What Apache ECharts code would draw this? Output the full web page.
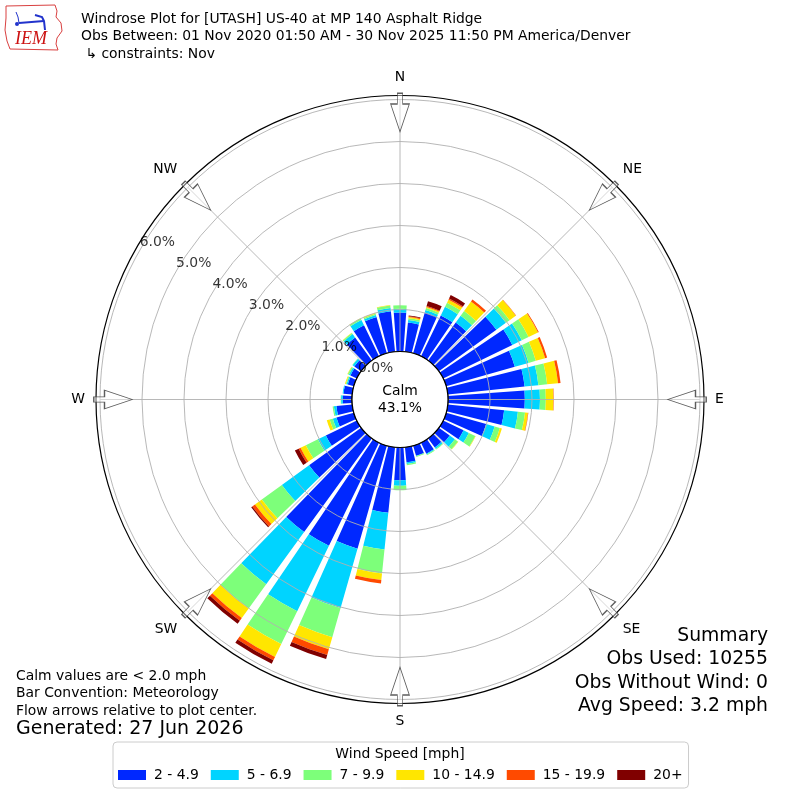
<!DOCTYPE html>
<html>
<head>
<meta charset="utf-8">
<script src="https://cdn.jsdelivr.net/npm/echarts@6.0.0/dist/echarts.min.js"></script>
<style>html,body{margin:0;padding:0;background:#fff}#c{width:800px;height:800px}</style>
</head>
<body>
<div id="c"></div>
<script>
// ---------------- data ----------------
const directions = [0,10,20,30,40,50,60,70,80,90,100,110,120,130,140,150,160,170,
                    180,190,200,210,220,230,240,250,260,270,280,290,300,310,320,330,340,350];
const speedBins = ['2 - 4.9','5 - 6.9','7 - 9.9','10 - 14.9','15 - 19.9','20+'];
// percent of observations per direction (meteorological), per speed bin
const bin2to5   = [0.93,0.70,1.01,1.08,1.12,1.69,1.83,1.70,1.84,1.83,1.35,0.99,0.54,0.32,0.27,0.29,0.25,0.36,
                   0.78,1.57,2.55,2.73,2.75,1.53,0.82,0.43,0.38,0.22,0.21,0.15,0.17,0.20,0.68,0.82,0.90,0.97];
const bin5to7   = [0.09,0.06,0.06,0.23,0.20,0.28,0.25,0.34,0.33,0.36,0.33,0.21,0.14,0.15,0.04,0.02,0.01,0.04,
                   0.13,0.88,1.47,1.73,1.54,0.80,0.21,0.09,0.06,0.04,0.02,0.03,0.04,0.05,0.10,0.14,0.05,0.08];
const bin7to10  = [0.08,0.04,0.05,0.11,0.14,0.11,0.18,0.18,0.21,0.14,0.17,0.13,0.17,0.09,0.02,0.02,0.02,0.03,
                   0.11,0.57,0.72,0.87,0.71,0.59,0.32,0.08,0.03,0.01,0.00,0.02,0.03,0.01,0.03,0.04,0.03,0.06];
const bin10to15 = [0.00,0.03,0.03,0.08,0.28,0.18,0.25,0.23,0.26,0.18,0.07,0.05,0.01,0.01,0.00,0.00,0.00,0.00,
                   0.00,0.16,0.30,0.34,0.28,0.20,0.14,0.07,0.00,0.00,0.00,0.02,0.01,0.00,0.01,0.01,0.02,0.01];
const bin15to20 = [0.00,0.02,0.02,0.03,0.06,0.01,0.02,0.05,0.06,0.01,0.01,0.00,0.00,0.00,0.00,0.00,0.00,0.00,
                   0.00,0.08,0.14,0.09,0.08,0.08,0.05,0.00,0.00,0.00,0.00,0.00,0.00,0.00,0.00,0.00,0.00,0.00];
const bin20plus = [0.00,0.02,0.12,0.09,0.00,0.00,0.00,0.00,0.00,0.00,0.00,0.00,0.00,0.00,0.00,0.00,0.00,0.00,
                   0.00,0.00,0.10,0.09,0.09,0.03,0.10,0.00,0.00,0.00,0.00,0.00,0.00,0.00,0.00,0.00,0.00,0.00];
const radiusTicks = [0,1,2,3,4,5,6];
const compassAngles = [0,45,90,135,180,225,270,315];
const compassLabels = ['N','NE','E','SE','S','SW','W','NW'];
const calmPct = 43.1;
const titleLines = [
  'Windrose Plot for [UTASH] US-40 at MP 140 Asphalt Ridge',
  'Obs Between: 01 Nov 2020 01:50 AM - 30 Nov 2025 11:50 PM America/Denver',
  ' \u21b3 constraints: Nov'
];
const noteLines = ['Calm values are < 2.0 mph','Bar Convention: Meteorology','Flow arrows relative to plot center.'];
const generatedText = 'Generated: 27 Jun 2026';
const summaryLines = ['Summary','Obs Used: 10255','Obs Without Wind: 0','Avg Speed: 3.2 mph'];
const legendTitle = 'Wind Speed [mph]';

// ---------------- layout / style ----------------
const binColors = ['#0028ff','#00d4ff','#7dff7a','#ffe600','#ff4a00','#800000'];
const FONT = '"DejaVu Sans", sans-serif';
const CX = 400, CY = 399.5, R0 = 48, PX_PER_PCT = 42;
const R_GRID = R0 + PX_PER_PCT * 6;      // 6% ring
const R_OUT = 304;                        // outer frame
const GRID_MAX = (R_GRID - R0) / PX_PER_PCT;
const OUT_MAX = (R_OUT - R0) / PX_PER_PCT;
const RLABEL_ANGLE = 300;
const ARROW_R = (287 - R0) / PX_PER_PCT;
const ARROW_PATH = 'path://M-2.65 0L2.65 0L2.65 10.7L9.35 10.7L0 38.4L-9.35 10.7L-2.65 10.7Z';

const binData = [bin2to5, bin5to7, bin7to10, bin10to15, bin15to20, bin20plus];

const barSeries = speedBins.map((name, i) => ({
  type: 'bar', name, coordinateSystem: 'polar', polarIndex: 1, stack: 'wind',
  data: binData[i], barCategoryGap: '18%', itemStyle: { color: binColors[i] },
  silent: true, z: 2
}));

const chart = echarts.init(document.getElementById('c'), null, { renderer: 'canvas' });

const graphics = [];
// IEM logo
graphics.push({
  type: 'polygon', z: 50,
  shape: { points: [[6,6],[55,5],[57,11],[56,17],[61,23],[62,31],[57,38],[56,44],[58,50],[10,49],[7,41],[5,30],[6,18]] },
  style: { fill: 'none', stroke: '#d94040', lineWidth: 1 }
});
graphics.push({ type: 'polyline', z: 50, shape: { points: [[19,23],[44,21]] }, style: { stroke: '#2233cc', lineWidth: 2, fill: 'none' } });
graphics.push({ type: 'polyline', z: 50, shape: { points: [[35,15],[42,17],[44,21],[45,30]] }, style: { stroke: '#2233cc', lineWidth: 2, fill: 'none' } });
graphics.push({ type: 'polyline', z: 50, shape: { points: [[16,12],[18,17],[19,23]] }, style: { stroke: '#2233cc', lineWidth: 1, fill: 'none' } });
graphics.push({ type: 'circle', z: 50, shape: { cx: 17, cy: 24, r: 2 }, style: { fill: '#2233cc' } });
graphics.push({ type: 'text', z: 50, x: 15, y: 39, style: { text: 'IEM', font: 'italic 18px "Liberation Serif", serif', fill: '#cc1111', verticalAlign: 'middle' } });
// titles
titleLines.forEach((t, i) => graphics.push({
  type: 'text', z: 50, x: 81, y: 19 + i * 17.5,
  style: { text: t, font: '13.9px ' + FONT, fill: '#000', verticalAlign: 'middle' }
}));
// calm circle
graphics.push({ type: 'circle', z: 60, shape: { cx: CX, cy: CY, r: R0 }, style: { fill: '#fff', stroke: '#000', lineWidth: 1.2 } });
graphics.push({ type: 'text', z: 61, x: CX, y: CY - 8, style: { text: 'Calm', font: '13.9px ' + FONT, fill: '#000', align: 'center', verticalAlign: 'middle' } });
graphics.push({ type: 'text', z: 61, x: CX, y: CY + 9, style: { text: calmPct.toFixed(1) + '%', font: '13.9px ' + FONT, fill: '#000', align: 'center', verticalAlign: 'middle' } });
// notes
noteLines.forEach((t, i) => graphics.push({
  type: 'text', z: 50, x: 16, y: 676 + i * 17.5,
  style: { text: t, font: '13.9px ' + FONT, fill: '#000', verticalAlign: 'middle' }
}));
graphics.push({ type: 'text', z: 50, x: 16, y: 729, style: { text: generatedText, font: '19px ' + FONT, fill: '#000', verticalAlign: 'middle' } });
summaryLines.forEach((t, i) => graphics.push({
  type: 'text', z: 50, x: 768, y: 636 + i * 23.5,
  style: { text: t, font: '18.8px ' + FONT, fill: '#000', align: 'right', verticalAlign: 'middle' }
}));
graphics.push({ type: 'text', z: 50, x: 400, y: 754, style: { text: legendTitle, font: '13.9px ' + FONT, fill: '#000', align: 'center', verticalAlign: 'middle' } });

const option = {
  animation: false,
  backgroundColor: '#fff',
  polar: [
    { center: [CX, CY], radius: [R0, R_GRID] },
    { center: [CX, CY], radius: [R0, R_OUT] }
  ],
  angleAxis: [
    { polarIndex: 0, type: 'value', min: 0, max: 360, interval: 45, startAngle: 90, clockwise: true, z: 3,
      axisLine: { show: false }, axisTick: { show: false },
      axisLabel: { show: true, margin: 15, color: '#000', fontSize: 13.9, fontFamily: FONT,
                   formatter: v => compassLabels[Math.round(v / 45)] || '' },
      splitLine: { show: true, lineStyle: { color: '#b0b0b0', width: 0.9 } } },
    { polarIndex: 1, type: 'category', data: directions.map(String), startAngle: 95, clockwise: true, boundaryGap: true, z: 4,
      axisLine: { show: true, lineStyle: { color: '#000', width: 1.2 } },
      axisTick: { show: false }, axisLabel: { show: false }, splitLine: { show: false } }
  ],
  radiusAxis: [
    { polarIndex: 0, type: 'value', min: 0, max: GRID_MAX, interval: 1, z: 3,
      axisLine: { show: false }, axisTick: { show: false }, axisLabel: { show: false },
      splitLine: { show: true, lineStyle: { color: '#b0b0b0', width: 0.9 } } },
    { polarIndex: 1, type: 'value', min: 0, max: OUT_MAX,
      axisLine: { show: false }, axisTick: { show: false }, axisLabel: { show: false }, splitLine: { show: false } }
  ],
  legend: {
    data: speedBins, left: 113, top: 742, orient: 'horizontal', selectedMode: false,
    icon: 'rect', itemWidth: 28, itemHeight: 10, itemGap: 12,
    padding: [26, 6, 6, 5],
    borderColor: '#cccccc', borderWidth: 1, borderRadius: 4,
    textStyle: { fontSize: 13.9, fontFamily: FONT, color: '#000', padding: [0, 0, 0, 3] }
  },
  series: [
    ...barSeries,
    { type: 'scatter', name: 'arrows', coordinateSystem: 'polar', polarIndex: 0, silent: true, z: 9,
      data: compassAngles.map(a => [ARROW_R, a]),
      symbol: ARROW_PATH, symbolSize: [18.7, 38.4], symbolRotate: v => -v[1],
      itemStyle: { color: 'rgba(255,255,255,0.55)', borderColor: '#333', borderWidth: 1 } },
    { type: 'scatter', name: 'rlabels', coordinateSystem: 'polar', polarIndex: 0, silent: true, z: 70,
      data: radiusTicks.map(t => [t, RLABEL_ANGLE]), symbolSize: 1,
      itemStyle: { color: 'rgba(0,0,0,0)' },
      labelLayout: { hideOverlap: false },
      label: { show: true, position: [0, 0], align: 'left', verticalAlign: 'bottom',
               fontSize: 13.9, fontFamily: FONT, color: '#000',
               formatter: p => p.value[0].toFixed(1) + '%' } }
  ],
  graphic: graphics
};
chart.setOption(option);
</script>
</body>
</html>
